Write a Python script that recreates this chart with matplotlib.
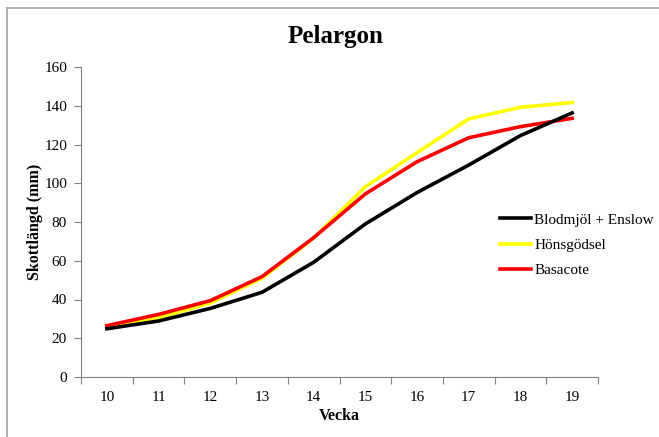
import matplotlib.pyplot as plt
from matplotlib.lines import Line2D

# weeks and shoot length (mm) per fertiliser
weeks = [10, 11, 12, 13, 14, 15, 16, 17, 18, 19]
blodmjol = [24.9, 28.9, 35.4, 43.7, 59.2, 79.0, 95.2, 109.4, 124.6, 136.3]
honsgodsel = [26.0, 30.5, 38.2, 51.0, 71.7, 98.2, 115.8, 133.2, 139.2, 141.7]
basacote = [26.5, 32.3, 39.4, 51.8, 71.9, 94.5, 111.1, 123.5, 129.2, 133.5]

series_names = ["Blodmjöl + Enslow", "Hönsgödsel", "Basacote"]
series_colors = ["black", "#ffff00", "#ff0000"]

plt.rcParams['font.family'] = ['Liberation Serif', 'DejaVu Serif']

fig = plt.figure(figsize=(6.59, 4.37), dpi=100)
ax = fig.add_axes([81/659, 60/437, 517/659, 310/437])

# draw order: yellow below red, black on top at the end
ax.plot(weeks, honsgodsel, color=series_colors[1], lw=2.6, zorder=2)
ax.plot(weeks, basacote, color=series_colors[2], lw=2.6, zorder=3)
ax.plot(weeks, blodmjol, color=series_colors[0], lw=2.6, zorder=4)

ax.set_xlim(9.5, 19.5)
ax.set_ylim(0, 160)
ax.set_yticks(range(0, 161, 20))
ax.set_xticks(weeks)
ax.set_xticks([w - 0.5 for w in weeks] + [19.5], minor=True)
ax.tick_params(axis='x', which='major', length=0, pad=10, labelsize=11)
ax.tick_params(axis='x', which='minor', length=5, color='#808080', width=0.8)
ax.tick_params(axis='y', length=5, color='#808080', width=0.8, labelsize=11, pad=5)

for s in ['top', 'right']:
    ax.spines[s].set_visible(False)
for s in ['left', 'bottom']:
    ax.spines[s].set_color('#808080')
    ax.spines[s].set_linewidth(0.8)

ax.set_xlabel("Vecka", fontsize=11.5, fontweight='bold', labelpad=3)
ax.set_ylabel("Skottlängd (mm)", fontsize=11.5, fontweight='bold', labelpad=1)
fig.text(335/659, 1 - 37/437, "Pelargon", ha='center', va='center',
         fontsize=18, fontweight='bold')

handles = [Line2D([0], [0], color=c, lw=2.6) for c in series_colors]
fig.legend(handles, series_names, loc='center left',
           bbox_to_anchor=(500/659, 1 - 245/437), frameon=False,
           fontsize=11, handlelength=2.0, handletextpad=0.25, labelspacing=0.75,
           borderpad=0, borderaxespad=0)

# chart area border (only top and left visible)
fig.add_artist(Line2D([6.5/659, 1], [1 - 8/437, 1 - 8/437], color='#a6a6a6', lw=1.2))
fig.add_artist(Line2D([6.5/659, 6.5/659], [0, 1 - 8/437], color='#a6a6a6', lw=1.2))

fig.savefig("out.png", dpi=100)
